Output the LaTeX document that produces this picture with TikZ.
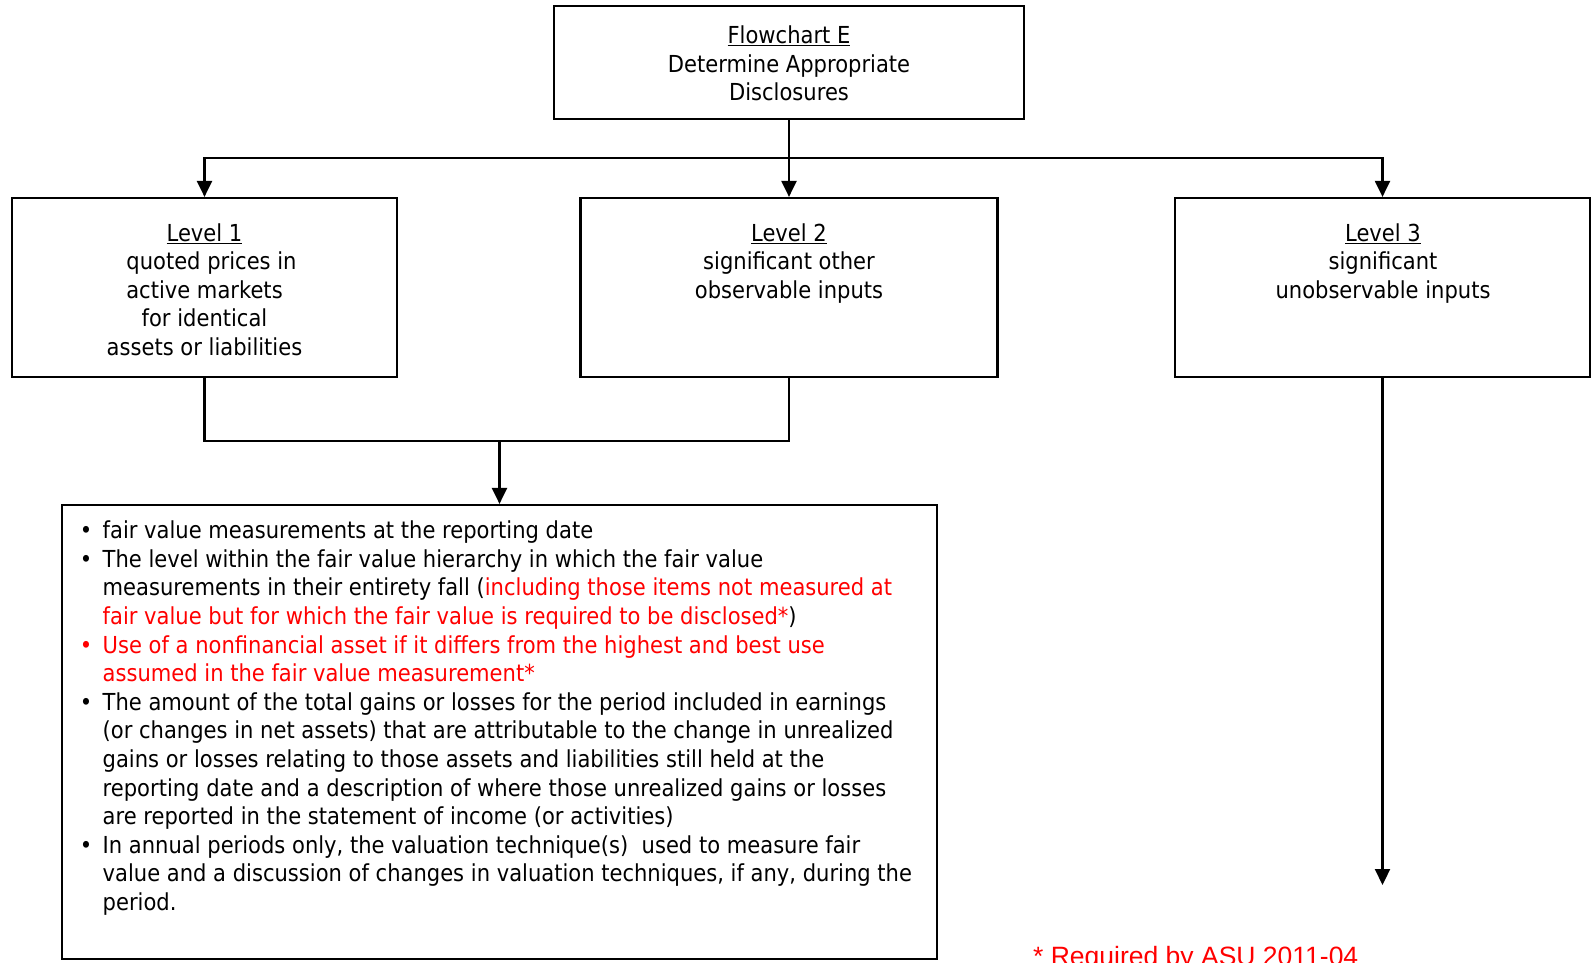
\documentclass[tikz,border=0pt]{standalone}
\usepackage{fontspec}
\setmainfont[FakeStretch=0.9]{DejaVu Sans}
\newfontfamily\notefont{Liberation Sans}
\usetikzlibrary{arrows.meta}
\definecolor{notered}{RGB}{255,0,0}
\newcommand{\itembullet}{\llap{\textbullet\hspace*{10.5pt}}}
\begin{document}
\begin{tikzpicture}[x=1pt,y=-1pt,
  box/.style={draw=black, line width=2.2pt, inner sep=0pt},
  % multi-line nodes: the base anchor sits on the last line's baseline
  txt/.style={font=\fontsize{23.4}{28.6}\selectfont, inner sep=0pt, align=center, anchor=base},
  listtxt/.style={font=\fontsize{23.4}{28.6}\selectfont, inner sep=0pt, align=left, anchor=base west},
  link/.style={line width=2.2pt},
  arr/.style={line width=2.2pt, -{Triangle[length=16pt,width=15pt]}}]
\useasboundingbox (0,0) rectangle (1591,963);

% boxes
\node[box, minimum width=470pt, minimum height=113pt] (top) at (789,62.5) {};
\node[box, minimum width=385pt, minimum height=179pt] (l1) at (204.5,287.5) {};
\node[box, minimum width=417pt, minimum height=179pt] (l2) at (789,287.5) {};
\node[box, minimum width=415pt, minimum height=179pt] (l3) at (1382.5,287.5) {};
\node[box, minimum width=875pt, minimum height=454pt] (list) at (499.5,732) {};

% box texts
\node[txt] (ttop) at (789,100.7) {\underline{Flowchart E}\\Determine Appropriate\\Disclosures};
\node[txt] (tl1) at (204.5,355.4) {\underline{Level 1}\\\hspace*{14pt}quoted prices in\\active markets\hspace*{8pt}\\for identical\hspace*{9pt}\\assets or liabilities};
\node[txt] (tl2) at (789,298.2) {\underline{Level 2}\\significant other\\observable inputs};
\node[txt] (tl3) at (1383,298.2) {\underline{Level 3}\\significant\hspace*{7pt}\\unobservable inputs};

\node[listtxt] (items) at (102.5,910.5) {%
\itembullet fair value measurements at the reporting date\\
\itembullet The level within the fair value hierarchy in which the fair value\\
measurements in their entirety fall (\textcolor{notered}{including those items not measured at}\\
\textcolor{notered}{fair value but for which the fair value is required to be disclosed*})\\
\textcolor{notered}{\itembullet Use of a nonfinancial asset if it differs from the highest and best use}\\
\textcolor{notered}{assumed in the fair value measurement*}\\
\itembullet The amount of the total gains or losses for the period included in earnings\\
(or changes in net assets) that are attributable to the change in unrealized\\
gains or losses relating to those assets and liabilities still held at the\\
reporting date and a description of where those unrealized gains or losses\\
are reported in the statement of income (or activities)\\
\itembullet In annual periods only, the valuation technique(s)\ \ used to measure fair\\
value and a discussion of changes in valuation techniques, if any, during the\\
period.};

\node[anchor=base west, inner sep=0pt, text=notered,
  font=\notefont\fontsize{26.5}{30}\selectfont] (note) at (1033,965) {* Required by ASU 2011-04};

% connectors
\coordinate (split) at (789,158);
\coordinate (join) at (499.5,441);
\coordinate (end3) at (1382.5,885);
\draw[arr] (top.south) -- (l2.north);
\draw[arr] (split) -| (l1.north);
\draw[arr] (split) -| (l3.north);
\draw[link] (l1.south) -- (l1.south |- join) -- (l2.south |- join) -- (l2.south);
\draw[arr] (join) -- (list.north);
\draw[arr] (l3.south) -- (end3);
\end{tikzpicture}
\end{document}
